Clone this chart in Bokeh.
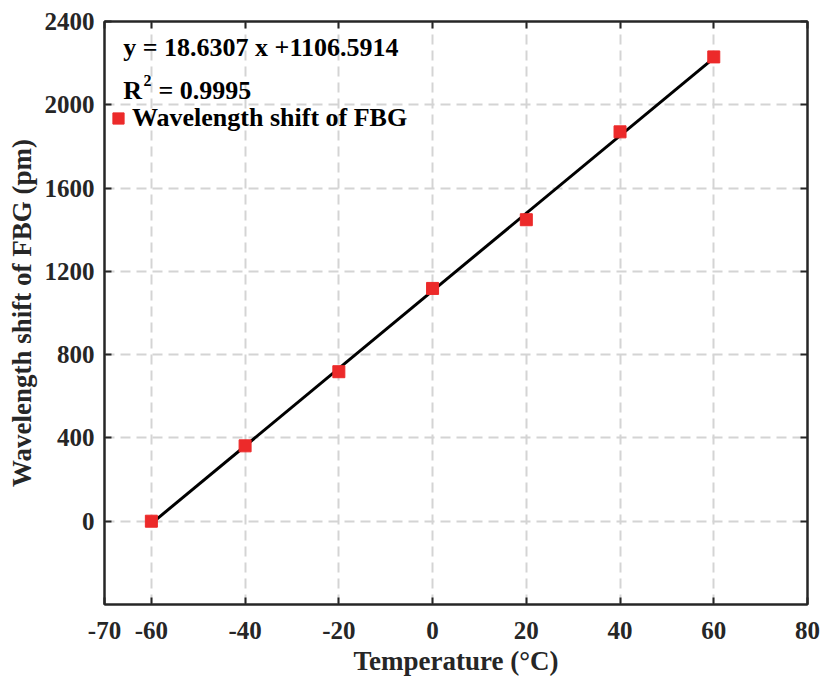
from bokeh.plotting import figure
from bokeh.models import Range1d, FixedTicker, LinearAxis, Label, Legend, LegendItem
from bokeh.embed import file_html
from bokeh.resources import INLINE

# Data
temperature = [-60, -40, -20, 0, 20, 40, 60]
shift_pm = [0, 362, 718, 1118, 1448, 1870, 2230]
fit_slope = 18.6307
fit_intercept = 1106.5914
fit_x = [-60, 60]
fit_y = [fit_slope * x + fit_intercept for x in fit_x]
x_ticks = [-70, -60, -40, -20, 0, 20, 40, 60, 80]
y_ticks = [0, 400, 800, 1200, 1600, 2000, 2400]

FONT = "Liberation Serif"
AX = "#262626"

p = figure(width=822, height=679, output_backend="svg", toolbar_location=None,
           x_range=Range1d(-70, 80), y_range=Range1d(-400, 2400),
           min_border_left=104, min_border_right=15, min_border_top=21, min_border_bottom=75)
p.outline_line_color = AX
p.outline_line_width = 2

for ax in (p.xaxis[0], p.yaxis[0]):
    ax.axis_line_color = AX
    ax.axis_line_width = 2
    ax.major_tick_line_color = AX
    ax.major_tick_line_width = 2
    ax.major_tick_in = 7
    ax.major_tick_out = 0
    ax.minor_tick_line_color = None
    ax.major_label_text_font = FONT
    ax.major_label_text_font_style = "bold"
    ax.major_label_text_font_size = "25px"
    ax.major_label_text_color = AX
    ax.axis_label_text_font = FONT
    ax.axis_label_text_font_style = "bold"
    ax.axis_label_text_font_size = "27px"
    ax.axis_label_text_color = AX

p.xaxis[0].ticker = FixedTicker(ticks=x_ticks)
p.yaxis[0].ticker = FixedTicker(ticks=y_ticks)
p.xaxis[0].major_label_overrides = {t: str(t) for t in x_ticks}
p.yaxis[0].major_label_overrides = {t: str(t) for t in y_ticks}
p.xaxis[0].axis_label = "Temperature (°C)"
p.yaxis[0].axis_label = "Wavelength shift of FBG (pm)"
p.xaxis[0].major_label_standoff = 17
p.yaxis[0].major_label_standoff = 10
p.xaxis[0].axis_label_standoff = 4
p.yaxis[0].axis_label_standoff = 5

for loc, tk in (("above", x_ticks), ("right", y_ticks)):
    a = LinearAxis(ticker=FixedTicker(ticks=tk), axis_line_color=AX, axis_line_width=2,
                   major_tick_line_color=AX, major_tick_line_width=2,
                   major_tick_in=7, major_tick_out=0, minor_tick_line_color=None,
                   major_label_text_font_size="1px", major_label_text_color=None,
                   major_label_standoff=0)
    p.add_layout(a, loc)

p.xgrid.ticker = FixedTicker(ticks=x_ticks)
p.ygrid.ticker = FixedTicker(ticks=y_ticks)
for g in (p.xgrid[0], p.ygrid[0]):
    g.grid_line_color = "#d4d4d4"
    g.grid_line_width = 2
    g.grid_line_dash = "10 6"

p.line(fit_x, fit_y, line_color="black", line_width=3)
pts = p.scatter(temperature, shift_pm, marker="square", size=12,
                fill_color="#ec2a2a", line_color="#ec2a2a")

legend = Legend(items=[LegendItem(label="Wavelength shift of FBG", renderers=[pts])],
                location=(0, 471), glyph_width=28, glyph_height=28, label_standoff=0,
                padding=0, margin=0, spacing=0, border_line_color=None,
                background_fill_alpha=0, label_text_font=FONT,
                label_text_font_style="bold", label_text_font_size="26px",
                label_text_color="black", label_height=28)
p.add_layout(legend)

common = dict(text_font=FONT, text_font_style="bold", text_color="black", text_baseline="middle")
p.add_layout(Label(x=-66, y=2275, text="y = 18.6307 x +1106.5914", text_font_size="26px", **common))
p.add_layout(Label(x=-66, y=2069, text="R", text_font_size="26px", **common))
p.add_layout(Label(x=-61.7, y=2115, text="2", text_font_size="16px", **common))
p.add_layout(Label(x=-58.5, y=2069, text="= 0.9995", text_font_size="26px", **common))

open("out.html", "w").write(file_html(p, INLINE))
